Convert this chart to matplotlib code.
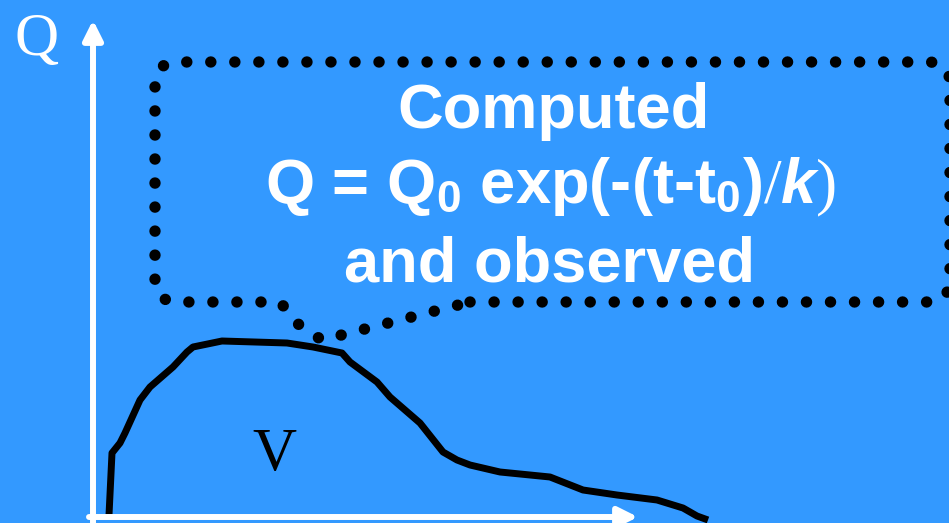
import numpy as np
import matplotlib
matplotlib.use('Agg')
import matplotlib.pyplot as plt

# hydrograph (t from the Q axis, Q up from the t axis)
t = [16, 19, 27, 32, 47, 57, 80, 94, 100, 129, 194, 220, 249, 257, 284, 297,
     327, 350, 364, 377, 407, 457, 490, 524, 564, 590, 604, 615]
q = [2, 64, 74, 84, 117, 130, 150, 165, 170, 176, 174, 170, 164, 155, 135, 120,
     94, 65, 57, 52, 45, 40, 27, 22, 17, 9, 1, -3]

line1 = 'Computed'
line2 = r'$\text{Q = Q}_0\text{ exp(-(t-t}_0\text{)}\mathsf{/}k\mathsf{)}$'
line3 = 'and observed'

BG = '#3399ff'
OX, OY = 93, 517  # where the axes cross, in picture pixels

plt.rcParams['mathtext.fontset'] = 'custom'
plt.rcParams['mathtext.rm'] = 'Liberation Sans:bold'
plt.rcParams['mathtext.it'] = 'Liberation Sans:bold:italic'
plt.rcParams['mathtext.sf'] = 'Liberation Serif'

fig = plt.figure(figsize=(9.49, 5.23), dpi=100, facecolor=BG)
ax = fig.add_axes([0, 0, 1, 1])
ax.set_facecolor(BG)
ax.set_xlim(-OX, 949 - OX)
ax.set_ylim(OY - 523, OY)
ax.axis('off')

def px(x, y):
    # picture pixel -> data coords
    return x - OX, OY - y

# axes arrows
arr = dict(arrowstyle='-|>,head_length=0.9,head_width=0.45', color='white',
           lw=4.3, mutation_scale=13, shrinkA=0, shrinkB=0)
ax.annotate('', xy=px(93, 20), xytext=px(93, 530), arrowprops=arr)
ax.annotate('', xy=px(638, 517), xytext=px(89, 517), arrowprops=arr)

# curve
ax.plot(t, q, color='black', lw=5, solid_joinstyle='round', solid_capstyle='butt')

ax.text(*px(14, 55), 'Q', family='Liberation Serif', fontsize=44, color='white',
        va='baseline', ha='left')
ax.text(*px(252, 470), 'V', family='Liberation Serif', fontsize=44, color='black',
        va='baseline', ha='left')

# dotted callout
def corner(cx, cy, r, a0, a1):
    a = np.linspace(np.radians(a0), np.radians(a1), 8)
    return list(zip(cx + r * np.cos(a), cy + r * np.sin(a)))

r = 20
L, R, T, B = 155, 950, 62, 302
pts = [(470, B), (R - r, B)]
pts += corner(R - r, B - r, r, 90, 0)
pts += [(R, T + r)]
pts += corner(R - r, T + r, r, 0, -90)
pts += [(L + r, T)]
pts += corner(L + r, T + r, r, -90, -180)
pts += [(L, B - r)]
pts += corner(L + r, B - r, r, 180, 90)
pts += [(280, B), (300, 326), (322, 340), (470, B)]
bx, by = zip(*[px(x, y) for x, y in pts])
ax.plot(bx, by, color='black', lw=8.2, linestyle=(0, (0.01, 2.1)),
        dash_capstyle='round')

tk = dict(family='Liberation Sans', fontweight='bold', fontsize=45.5, color='white',
          va='baseline', ha='left')
ax.text(*px(397, 128), line1, **tk)
ax.text(*px(265, 203), line2, **tk)
ax.text(*px(344, 282), line3, **tk)

fig.savefig('out.png', dpi=100, facecolor=BG)
